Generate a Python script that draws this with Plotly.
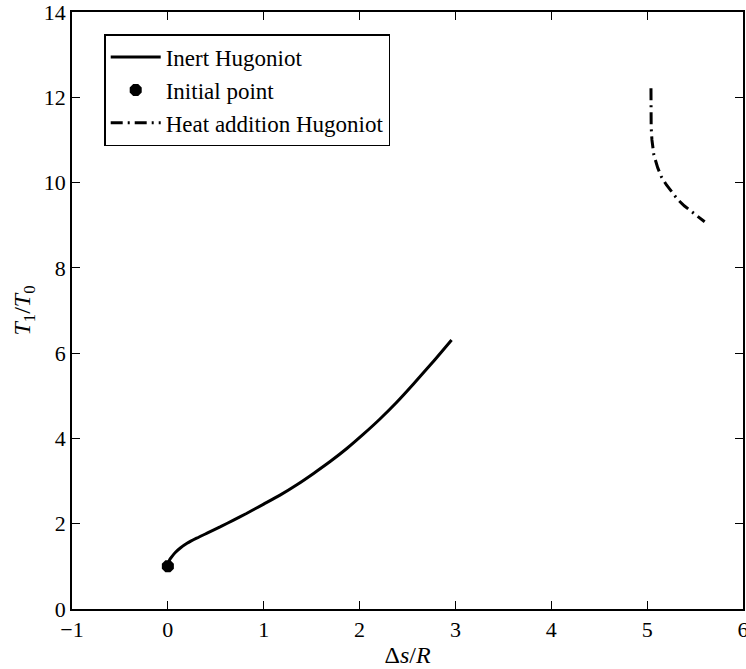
import plotly.graph_objects as go

# Inert Hugoniot (entropy change vs temperature ratio)
inert_ds = [0.0, 0.005, 0.02, 0.042, 0.08, 0.13, 0.20, 0.30, 0.42, 0.55, 0.68, 0.82, 1.00, 1.17, 1.35, 1.52, 1.70, 1.87, 2.04, 2.21, 2.38, 2.56, 2.76, 2.96]
inert_T = [1.0, 1.08, 1.16, 1.23, 1.33, 1.43, 1.54, 1.66, 1.79, 1.93, 2.08, 2.24, 2.46, 2.67, 2.92, 3.18, 3.47, 3.77, 4.10, 4.45, 4.83, 5.27, 5.78, 6.31]

# Initial point
init_ds = [0.0]
init_T = [1.0]

# Heat addition Hugoniot
heat_ds = [5.04, 5.04, 5.042, 5.05, 5.07, 5.11, 5.15, 5.20, 5.26, 5.32, 5.39, 5.46, 5.53, 5.60]
heat_T = [12.21, 11.70, 11.30, 11.00, 10.65, 10.35, 10.13, 9.95, 9.77, 9.60, 9.45, 9.32, 9.19, 9.08]

x_ticks = [-1, 0, 1, 2, 3, 4, 5, 6]
y_ticks = [0, 2, 4, 6, 8, 10, 12, 14]

FONT = "Liberation Serif"

fig = go.Figure()
fig.add_trace(go.Scatter(x=inert_ds, y=inert_T, mode="lines", name="Inert Hugoniot",
                         line=dict(color="black", width=3, shape="spline", smoothing=0.6)))
fig.add_trace(go.Scatter(x=init_ds, y=init_T, mode="markers", name="Initial point",
                         marker=dict(color="black", size=13, symbol="octagon")))
fig.add_trace(go.Scatter(x=heat_ds, y=heat_T, mode="lines", name="Heat addition Hugoniot",
                         line=dict(color="black", width=3, dash="12px,5px,2px,5px")))

axis_common = dict(
    showgrid=False, zeroline=False, showline=True, linecolor="black", linewidth=1.5,
    mirror="ticks", ticks="inside", ticklen=8, tickwidth=1, tickcolor="black",
    tickfont=dict(family=FONT, size=22, color="black"),
    ticklabeloverflow="allow", automargin=False,
)

fig.update_layout(
    width=746, height=669,
    margin=dict(l=72, r=3, t=12, b=60),
    paper_bgcolor="white", plot_bgcolor="white",
    font=dict(family=FONT, color="black"),
    showlegend=True,
    legend=dict(x=0.048, y=0.963, xanchor="left", yanchor="top",
                bordercolor="black", borderwidth=1.5, bgcolor="white",
                font=dict(family=FONT, size=23, color="black"),
                itemwidth=50, tracegroupgap=0),
    xaxis=dict(range=[-1, 6], tickvals=x_ticks, ticktext=[("\u22121" if v < 0 else str(v)) for v in x_ticks],
               title=dict(text="\u0394<i>s</i>/<i>R</i>", font=dict(family=FONT, size=24), standoff=5),
               **axis_common),
    yaxis=dict(range=[0, 14], tickvals=y_ticks,
               title=dict(text="<i>T</i><sub>1</sub>/<i>T</i><sub>0</sub>", font=dict(family=FONT, size=24), standoff=6),
               **axis_common),
)

fig.write_html("out.html")
